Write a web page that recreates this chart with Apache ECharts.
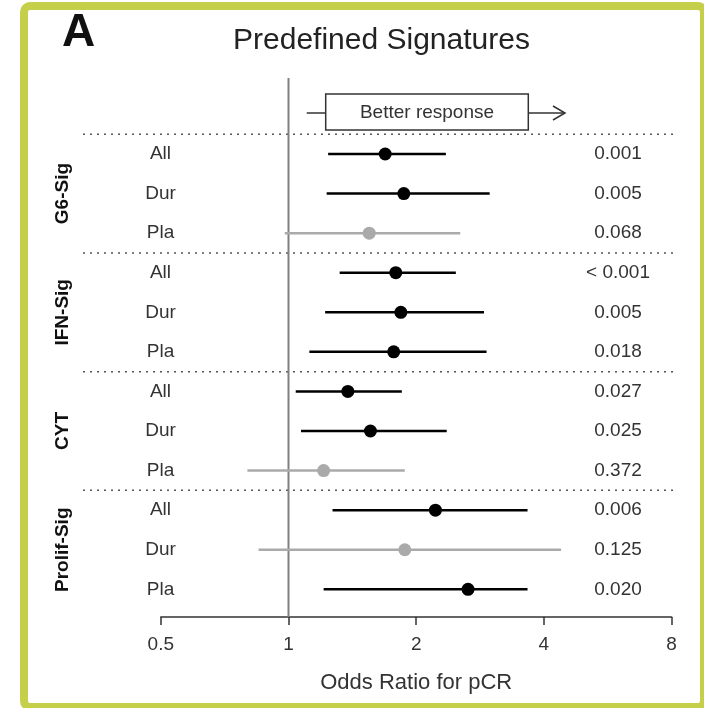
<!DOCTYPE html>
<html>
<head>
<meta charset="utf-8">
<title>Predefined Signatures</title>
<script src="https://cdn.jsdelivr.net/npm/echarts@6/dist/echarts.min.js"></script>
<style>
  html, body { margin: 0; padding: 0; background: #ffffff; }
  #chart { width: 704px; height: 708px; }
</style>
</head>
<body>
<div id="chart"></div>
<script>
// Signature groups, each with three subgroups (All / Durvalumab / Placebo)
const groups = ['G6-Sig', 'IFN-Sig', 'CYT', 'Prolif-Sig'];
const arms = ['All', 'Dur', 'Pla'];

// Odds ratios for pCR with 95% confidence limits, one entry per row (top to bottom)
const oddsRatio = [1.69, 1.87, 1.55, 1.79, 1.84, 1.77, 1.38, 1.56, 1.21, 2.22, 1.88, 2.65];
const ciLow     = [1.24, 1.23, 0.98, 1.32, 1.22, 1.12, 1.04, 1.07, 0.80, 1.27, 0.85, 1.21];
const ciHigh    = [2.35, 2.98, 2.54, 2.48, 2.89, 2.93, 1.85, 2.36, 1.88, 3.66, 4.39, 3.66];
const pValues   = ['0.001', '0.005', '0.068', '< 0.001', '0.005', '0.018',
                   '0.027', '0.025', '0.372', '0.006', '0.125', '0.020'];

// Odds-ratio axis ticks (log2 scale)
const xTicks = [0.5, 1, 2, 4, 8];

const FONT = '"Liberation Sans", Arial, Helvetica, sans-serif';
const TEXT = '#333333';
const SIG = '#000000';
const NONSIG = '#aaaaaa';

const rowLabels = [];
groups.forEach(() => arms.forEach(a => rowLabels.push(a)));
const pNum = pValues.map(p => parseFloat(p.replace('<', '').trim()));
const rowColor = pNum.map(p => (p < 0.05 ? SIG : NONSIG));

const chart = echarts.init(document.getElementById('chart'), null, { renderer: 'canvas' });

const option = {
  backgroundColor: '#ffffff',
  animation: false,
  grid: { left: 160.8, right: 32.4, top: 134.2, bottom: 91, containLabel: false },
  xAxis: {
    type: 'log',
    logBase: 2,
    position: 'bottom',
    min: xTicks[0],
    max: xTicks[xTicks.length - 1],
    splitNumber: xTicks.length - 1,
    name: 'Odds Ratio for pCR',
    nameLocation: 'middle',
    nameGap: 55,
    nameTextStyle: { fontFamily: FONT, fontSize: 22, color: TEXT },
    axisLine: { show: true, onZero: false, lineStyle: { color: '#333333', width: 1.5 } },
    axisTick: { show: true, length: 8, inside: false, lineStyle: { color: '#333333', width: 1.5 } },
    axisLabel: { fontFamily: FONT, fontSize: 19, color: TEXT, margin: 18,
                 formatter: v => String(+v.toPrecision(6)) },
    splitLine: { show: false },
    minorTick: { show: false }
  },
  yAxis: {
    type: 'value',
    min: -0.5,
    max: 11.7,
    inverse: true,
    show: false
  },
  graphic: [
    // outer frame
    { type: 'rect', shape: { x: 24, y: 6, width: 680, height: 701, r: 6 },
      style: { fill: null, stroke: '#c5cf4a', lineWidth: 8 }, z: 100 },
    { type: 'text', x: 62, y: 33,
      style: { text: 'A', fontFamily: FONT, fontSize: 46, fontWeight: 'bold', fill: '#111111',
               align: 'left', verticalAlign: 'middle' } },
    { type: 'text', x: 381.5, y: 41,
      style: { text: 'Predefined Signatures', fontFamily: FONT, fontSize: 30, fill: '#222222',
               align: 'center', verticalAlign: 'middle' } },
    // "Better response" arrow box
    { type: 'line', shape: { x1: 306.7, y1: 113, x2: 325.7, y2: 113 },
      style: { stroke: '#333333', lineWidth: 1.5 } },
    { type: 'rect', shape: { x: 325.7, y: 94, width: 202.6, height: 36 },
      style: { fill: '#ffffff', stroke: '#333333', lineWidth: 1.5 } },
    { type: 'line', shape: { x1: 528.3, y1: 113, x2: 565, y2: 113 },
      style: { stroke: '#333333', lineWidth: 1.5 } },
    { type: 'polyline', shape: { points: [[553, 106], [565, 113], [553, 120]] },
      style: { stroke: '#333333', lineWidth: 1.5, fill: null } },
    { type: 'text', x: 427, y: 113,
      style: { text: 'Better response', fontFamily: FONT, fontSize: 19, fill: TEXT,
               align: 'center', verticalAlign: 'middle' } }
  ],
  series: [
    // dotted separators between signature groups
    {
      type: 'custom',
      clip: false,
      silent: true,
      data: groups.map((g, gi) => [1, gi * arms.length - 0.5]),
      encode: { x: 0, y: 1 },
      renderItem: (params, api) => {
        const y = api.coord([1, api.value(1)])[1];
        return { type: 'line', shape: { x1: 83, y1: y, x2: 678, y2: y },
                 style: { stroke: '#555555', lineWidth: 1.5, lineDash: [2, 5] } };
      }
    },
    // reference line at OR = 1
    {
      type: 'custom',
      clip: false,
      silent: true,
      data: [[1, 0]],
      encode: { x: 0, y: 1 },
      renderItem: (params, api) => {
        const x = api.coord([api.value(0), 0])[0];
        const yBottom = api.coord([1, 11.7])[1];
        return { type: 'line', shape: { x1: x, y1: 78, x2: x, y2: yBottom },
                 style: { stroke: '#808080', lineWidth: 2 } };
      }
    },
    // confidence intervals
    {
      type: 'custom',
      clip: false,
      silent: true,
      data: oddsRatio.map((v, i) => [ciLow[i], ciHigh[i], i]),
      encode: { x: [0, 1], y: 2 },
      renderItem: (params, api) => {
        const i = api.value(2);
        const p1 = api.coord([api.value(0), i]);
        const p2 = api.coord([api.value(1), i]);
        return { type: 'line', shape: { x1: p1[0], y1: p1[1], x2: p2[0], y2: p2[1] },
                 style: { stroke: rowColor[params.dataIndex], lineWidth: 2.5 } };
      },
      z: 3
    },
    // point estimates
    {
      type: 'scatter',
      symbol: 'circle',
      symbolSize: 13,
      itemStyle: { opacity: 1 },
      data: oddsRatio.map((v, i) => ({ value: [v, i], itemStyle: { color: rowColor[i], opacity: 1 } })),
      z: 4
    },
    // subgroup labels
    {
      type: 'custom',
      clip: false,
      silent: true,
      data: rowLabels.map((l, i) => [1, i]),
      encode: { x: 0, y: 1 },
      renderItem: (params, api) => {
        const y = api.coord([1, api.value(1)])[1];
        return { type: 'text', x: 160.5, y: y,
                 style: { text: rowLabels[params.dataIndex], fontFamily: FONT, fontSize: 19,
                          fill: TEXT, align: 'center', verticalAlign: 'middle' } };
      }
    },
    // p-values
    {
      type: 'custom',
      clip: false,
      silent: true,
      data: pValues.map((p, i) => [1, i]),
      encode: { x: 0, y: 1 },
      renderItem: (params, api) => {
        const y = api.coord([1, api.value(1)])[1];
        return { type: 'text', x: 618, y: y,
                 style: { text: pValues[params.dataIndex], fontFamily: FONT, fontSize: 19,
                          fill: TEXT, align: 'center', verticalAlign: 'middle' } };
      }
    },
    // signature group names (vertical)
    {
      type: 'custom',
      clip: false,
      silent: true,
      data: groups.map((g, gi) => [1, gi * arms.length + (arms.length - 1) / 2]),
      encode: { x: 0, y: 1 },
      renderItem: (params, api) => {
        const y = api.coord([1, api.value(1)])[1];
        return { type: 'text', x: 63, y: y, rotation: Math.PI / 2,
                 style: { text: groups[params.dataIndex], fontFamily: FONT, fontSize: 19,
                          fontWeight: 'bold', fill: '#111111',
                          align: 'center', verticalAlign: 'middle' } };
      }
    }
  ]
};

chart.setOption(option);
</script>
</body>
</html>
